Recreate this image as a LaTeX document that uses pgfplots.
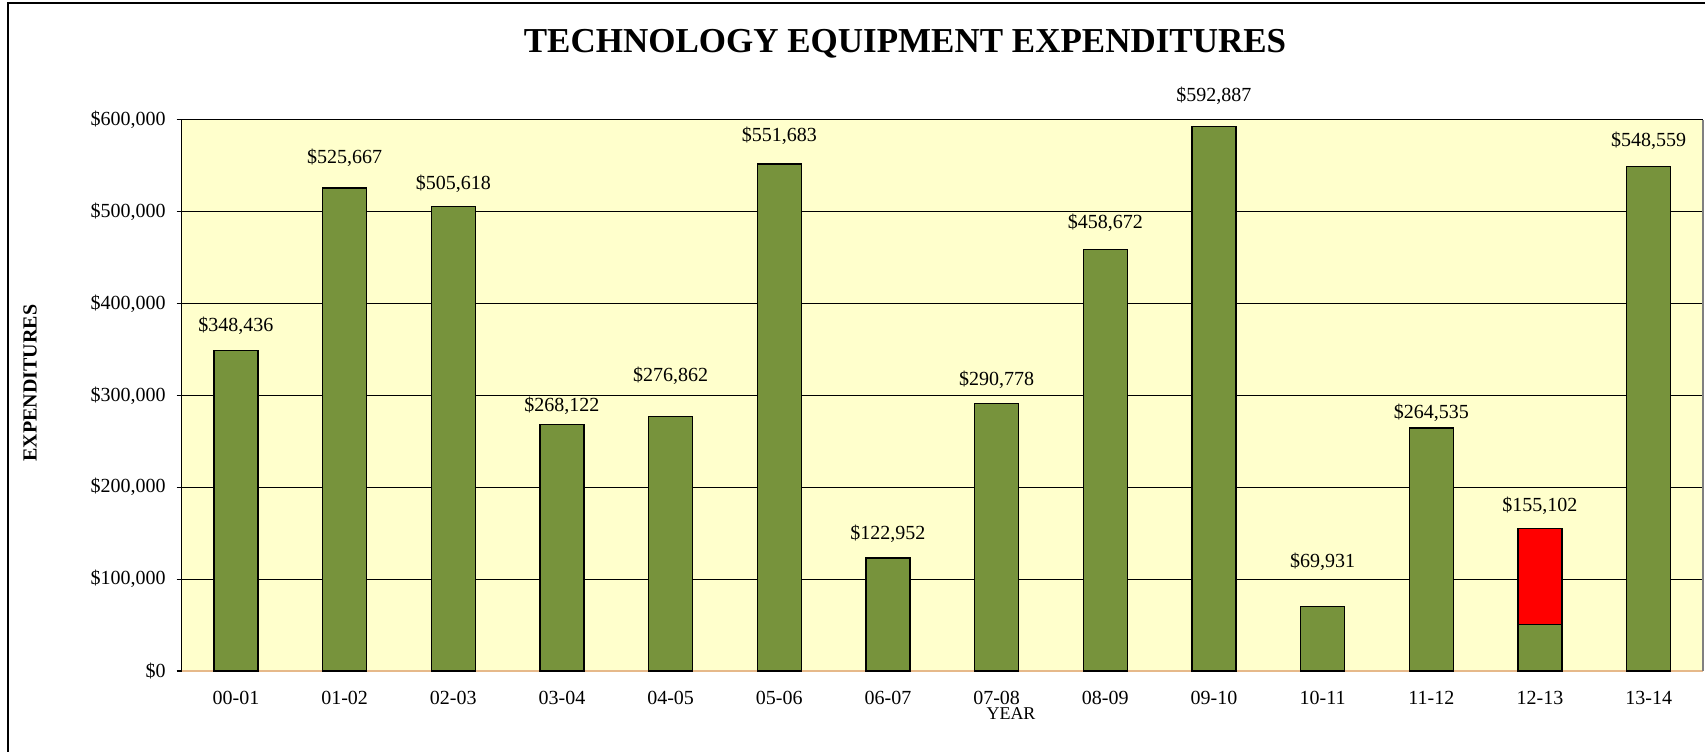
\documentclass[border=0pt]{standalone}
\usepackage{pgfplots}
\pgfplotsset{compat=1.18}
\usepackage{pgfplotstable}
\usepackage{fontspec}
\setmainfont{Liberation Serif}
\definecolor{greenc}{HTML}{77933C}
\definecolor{bgc}{HTML}{FFFFCC}
\definecolor{tanc}{HTML}{E6B98A}
\pgfplotstableread{
x v g ly
0 348436 348436 375200
1 525667 525667 558500
2 505618 505618 530100
3 268122 268122 288800
4 276862 276862 320800
5 551683 551683 582300
6 122952 122952 149200
7 290778 290778 317200
8 458672 458672 487600
9 592887 592887 626000
10 69931 69931 118400
11 264535 264535 280500
12 155102 51000 180000
13 548559 548559 577500
}\data
\begin{document}
\begin{tikzpicture}
\useasboundingbox (0,0) rectangle (852.5pt,-375.5pt);
\draw[line width=1pt] (3.8pt,-376pt) -- (3.8pt,-1.5pt) -- (853pt,-1.5pt);
\node[font=\bfseries\fontsize{17.5}{21}\selectfont] at (452.5pt,-21.75pt) {TECHNOLOGY EQUIPMENT EXPENDITURES};
\node[font=\bfseries\fontsize{10}{12}\selectfont, rotate=90] at (15pt,-191.5pt) {EXPENDITURES};
\node[font=\fontsize{9}{11}\selectfont] at (505.5pt,-357pt) {YEAR};
\begin{axis}[
  at={(90.8pt,-335.5pt)}, anchor=south west,
  scale only axis, width=760.7pt, height=275.7pt,
  xmin=-0.5, xmax=13.5, ymin=0, ymax=600000,
  clip=false,
  axis x line*=bottom, axis y line*=left,
  x axis line style={draw=tanc, line width=0.8pt},
  y axis line style={draw=black, line width=0.8pt},
  axis background/.style={fill=bgc},
  xtick={0,...,13},
  xticklabels={00-01,01-02,02-03,03-04,04-05,05-06,06-07,07-08,08-09,09-10,10-11,11-12,12-13,13-14},
  xtick style={draw=none},
  extra x ticks={-0.5,0.5,1.5,2.5,3.5,4.5,5.5,6.5,7.5,8.5,9.5,10.5,11.5,12.5,13.5},
  extra x tick labels={},
  extra x tick style={tick style={draw=tanc, line width=0.6pt}, major tick length=3.5pt, tick align=outside},
  ytick={0,100000,200000,300000,400000,500000,600000},
  ytick style={draw=black, line width=0.6pt},
  tick align=outside, major tick length=2.5pt,
  scaled y ticks=false,
  /pgf/number format/assume math mode=true,
  yticklabel={\$\pgfmathprintnumber[fixed,precision=0,1000 sep={,}]{\tick}},
  tick label style={font=\fontsize{10}{12}\selectfont},
  yticklabel style={xshift=-2pt},
  xticklabel style={yshift=-4pt},
  ymajorgrids,
  grid style={black, line width=0.5pt},
]
\addplot[ybar, bar width=22pt, bar shift=0pt, fill=red, draw=black, line width=0.6pt] coordinates {(12,155102)};
\addplot[ybar, bar width=22pt, bar shift=0pt, fill=greenc, draw=black, line width=0.6pt] table[x=x,y=g]{\data};
\addplot[draw=none, point meta=explicit,
  nodes near coords={\$\pgfmathprintnumber[fixed,precision=0,1000 sep={,}]{\pgfplotspointmeta}},
  every node near coord/.append style={anchor=center, font=\fontsize{10}{12}\selectfont, text=black}]
  table[x=x,y=ly,meta=v]{\data};
\draw[gray, line width=0.6pt] (rel axis cs:1,0) -- (rel axis cs:1,1);
\end{axis}
\end{tikzpicture}
\end{document}
